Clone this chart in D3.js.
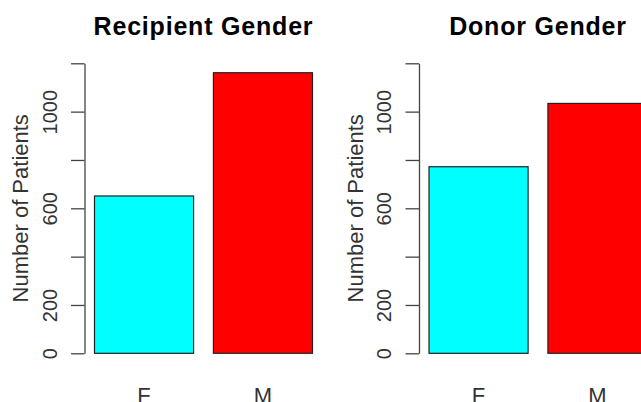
<!DOCTYPE html>
<html>
<head>
<meta charset="utf-8">
<script src="https://cdn.jsdelivr.net/npm/d3@7"></script>
<style>
  body { margin: 0; background: #fff; }
  svg { display: block; font-family: "Liberation Sans", Arial, sans-serif; }
</style>
</head>
<body>
<div id="chart"></div>
<script>
// categories and counts
var categories = ["F", "M"];
var recipientCounts = [651, 1161];
var donorCounts = [772, 1034];
var panelTitles = ["Recipient Gender", "Donor Gender"];
var tickValues = [0, 200, 400, 600, 800, 1000, 1200];
var tickLabels = ["0", "200", "", "600", "", "1000", ""]; // R drops the crowded ones
var barColors = ["#00FFFF", "#FF0000"];

var width = 641, height = 402;
var panelOffset = 334.5;

var svg = d3.select("#chart").append("svg")
    .attr("width", width)
    .attr("height", height);

var y = d3.scaleLinear().domain([0, 1200]).range([353.3, 63.3]);

var x = d3.scaleBand()
    .domain(categories)
    .range([94.5, 312.5])
    .paddingInner(0.2 / 1.2)
    .paddingOuter(0);

var panels = [recipientCounts, donorCounts];

panels.forEach(function (values, p) {
    var g = svg.append("g")
        .attr("transform", "translate(" + (p * panelOffset) + ",0)");

    // title
    g.append("text")
        .attr("x", (x.range()[0] + x.range()[1]) / 2)
        .attr("y", 35)
        .attr("text-anchor", "middle")
        .style("font-size", "25px")
        .style("font-weight", "bold")
        .style("letter-spacing", "0.8px")
        .style("fill", "#000")
        .text(panelTitles[p]);

    // bars
    g.selectAll(".bar")
        .data(values)
        .join("rect")
        .attr("class", "bar")
        .attr("x", function (d, i) { return x(categories[i]); })
        .attr("y", function (d) { return y(d); })
        .attr("width", x.bandwidth())
        .attr("height", function (d) { return y(0) - y(d); })
        .style("fill", function (d, i) { return barColors[i]; })
        .style("stroke", "#222")
        .style("stroke-width", 1.2);

    // y axis
    var axis = g.append("g")
        .attr("transform", "translate(84.5,0)")
        .call(d3.axisLeft(y)
            .tickValues(tickValues)
            .tickSize(13.5)
            .tickSizeOuter(0)
            .tickFormat(function (d, i) { return tickLabels[i]; }));

    axis.select(".domain").style("stroke", "#444").style("stroke-width", 1.3);
    axis.selectAll(".tick line").style("stroke", "#444").style("stroke-width", 1.3);
    axis.selectAll(".tick text")
        .attr("x", null)
        .attr("dy", null)
        .attr("transform", "translate(-28,0) rotate(-90)")
        .attr("text-anchor", "middle")
        .style("font-family", "Liberation Sans, Arial, sans-serif")
        .style("font-size", "20px")
        .style("fill", "#333");

    // y axis title
    g.append("text")
        .attr("transform", "translate(28.3," + ((y(0) + y(1200)) / 2) + ") rotate(-90)")
        .attr("text-anchor", "middle")
        .style("font-size", "22px")
        .style("fill", "#333")
        .text("Number of Patients");

    // category labels
    g.selectAll(".cat")
        .data(categories)
        .join("text")
        .attr("class", "cat")
        .attr("x", function (d) { return x(d) + x.bandwidth() / 2; })
        .attr("y", 402.5)
        .attr("text-anchor", "middle")
        .style("font-size", "22px")
        .style("fill", "#333")
        .text(function (d) { return d; });
});
</script>
</body>
</html>
